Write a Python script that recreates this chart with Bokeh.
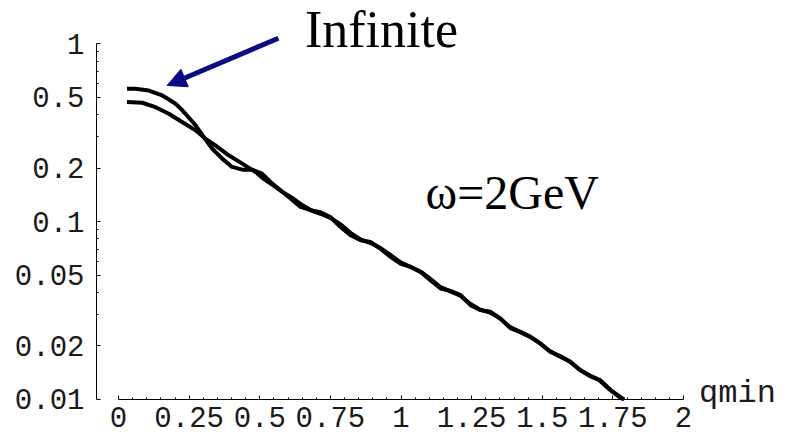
from bokeh.plotting import figure
from bokeh.models import Range1d, FixedTicker, Label, Arrow, NormalHead, CustomJSTickFormatter
from bokeh.embed import file_html
from bokeh.resources import INLINE

# Ratio versus minimum momentum transfer (log scale), two cases at omega = 2 GeV
qmin_a = [0.03, 0.06, 0.107, 0.155, 0.177, 0.202, 0.2195, 0.237, 0.273, 0.302, 0.332, 0.367,
          0.402, 0.438, 0.473, 0.508, 0.538, 0.573, 0.609, 0.644, 0.680, 0.715, 0.750, 0.786,
          0.821, 0.857, 0.892, 0.927, 0.963, 0.998, 1.034, 1.069, 1.104, 1.140, 1.175, 1.211,
          1.246, 1.281, 1.317, 1.352, 1.388, 1.423, 1.458, 1.494, 1.529, 1.565, 1.600, 1.635,
          1.671, 1.706, 1.742, 1.777, 1.788]
ratio_a = [0.559, 0.559, 0.546, 0.512, 0.4875, 0.460, 0.4327, 0.404, 0.348, 0.299, 0.257, 0.226,
           0.203, 0.196, 0.196, 0.186, 0.167, 0.150, 0.135, 0.121, 0.116, 0.113, 0.106, 0.0933,
           0.0838, 0.0785, 0.0768, 0.0705, 0.0633, 0.0581, 0.0556, 0.0521, 0.0468, 0.0421, 0.0408,
           0.0386, 0.0339, 0.0318, 0.0311, 0.0285, 0.0251, 0.0240, 0.0225, 0.0206, 0.0185, 0.0175,
           0.0163, 0.0146, 0.0135, 0.0128, 0.0113, 0.0103, 0.0100]

qmin_b = [0.03, 0.084, 0.131, 0.178, 0.225, 0.273, 0.308, 0.343, 0.390, 0.438, 0.485, 0.514,
          0.545, 0.58, 0.615, 0.65, 0.685, 0.72, 0.755, 0.79, 0.825, 0.86, 0.895, 0.93, 0.965,
          1.0, 1.035, 1.07, 1.105, 1.14, 1.175, 1.21, 1.245, 1.28, 1.315, 1.35, 1.385, 1.42,
          1.455, 1.49, 1.525, 1.56, 1.595, 1.63, 1.665, 1.70, 1.735, 1.77, 1.79]
ratio_b = [0.470, 0.466, 0.440, 0.404, 0.363, 0.326, 0.292, 0.268, 0.236, 0.212, 0.190, 0.174,
           0.161, 0.147, 0.136, 0.124, 0.115, 0.110, 0.104, 0.0955, 0.0855, 0.079, 0.0755, 0.0705,
           0.0645, 0.0588, 0.0555, 0.0523, 0.0475, 0.0428, 0.0405, 0.0383, 0.0345, 0.0320, 0.0308,
           0.0286, 0.0256, 0.0240, 0.0226, 0.0208, 0.0188, 0.0175, 0.0164, 0.0148, 0.0137, 0.0129,
           0.0115, 0.0104, 0.0100]

x_ticks = [0, 0.25, 0.5, 0.75, 1, 1.25, 1.5, 1.75, 2]
x_minor = [i * 0.05 for i in range(41) if i % 5 != 0]
y_ticks = [0.01, 0.02, 0.05, 0.1, 0.2, 0.5, 1]
y_minor = [0.03, 0.04, 0.06, 0.07, 0.08, 0.09, 0.3, 0.4, 0.6, 0.7, 0.8, 0.9]

mono = "Liberation Mono"
serif = "Liberation Serif"
ink = "#1a1a1a"
arrow_blue = "#0a0a85"

# The frame fills the whole canvas; the two axes sit at fixed positions inside it
p = figure(width=787, height=437, y_axis_type="log",
           x_range=Range1d(-0.4177, 2.368), y_range=Range1d(0.006113, 1.751),
           output_backend="svg", toolbar_location=None,
           min_border_left=0, min_border_right=0, min_border_top=0, min_border_bottom=0)
p.outline_line_color = None
p.grid.visible = False
p.background_fill_color = "white"
p.border_fill_color = "white"

for ax, ticks, minor, bounds, loc in ((p.xaxis[0], x_ticks, x_minor, (0, 2), 0.01),
                                      (p.yaxis[0], y_ticks, y_minor, (0.01, 1), -0.078)):
    ax.fixed_location = loc
    ax.ticker = FixedTicker(ticks=ticks, minor_ticks=minor)
    ax.bounds = bounds
    ax.axis_line_color = "black"
    ax.axis_line_width = 1
    ax.major_tick_in = 4
    ax.major_tick_out = 0
    ax.minor_tick_in = 2
    ax.minor_tick_out = 0
    ax.major_tick_line_color = "black"
    ax.minor_tick_line_color = "black"
    ax.major_label_text_font = mono
    ax.major_label_text_font_size = "29px"
    ax.major_label_text_color = ink

p.xaxis.formatter = CustomJSTickFormatter(code="return String(tick);")
p.yaxis.formatter = CustomJSTickFormatter(code="return String(tick);")
p.xaxis.major_label_standoff = 8
p.yaxis.major_label_standoff = 12

for xs, ys in ((qmin_a, ratio_a), (qmin_b, ratio_b)):
    p.line(xs, ys, line_color="black", line_width=4, line_join="round", line_cap="butt")

p.add_layout(Arrow(end=NormalHead(size=19, fill_color=arrow_blue, line_color=arrow_blue),
                   x_start=0.566, y_start=1.075, x_end=0.172, y_end=0.583,
                   line_color=arrow_blue, line_width=5))

p.add_layout(Label(x=0.66, y=1.200, text="Infinite", text_font=serif,
                   text_font_size="52px", text_color="black", text_baseline="alphabetic"))
p.add_layout(Label(x=1.087, y=0.1449, text="ω=2GeV", text_font=serif,
                   text_font_size="48px", text_color="black", text_baseline="alphabetic"))
p.add_layout(Label(x=2.055, y=0.01085, text="qmin", text_font=mono,
                   text_font_size="32px", text_color=ink, text_baseline="alphabetic"))

open("out.html", "w").write(file_html(p, INLINE))
